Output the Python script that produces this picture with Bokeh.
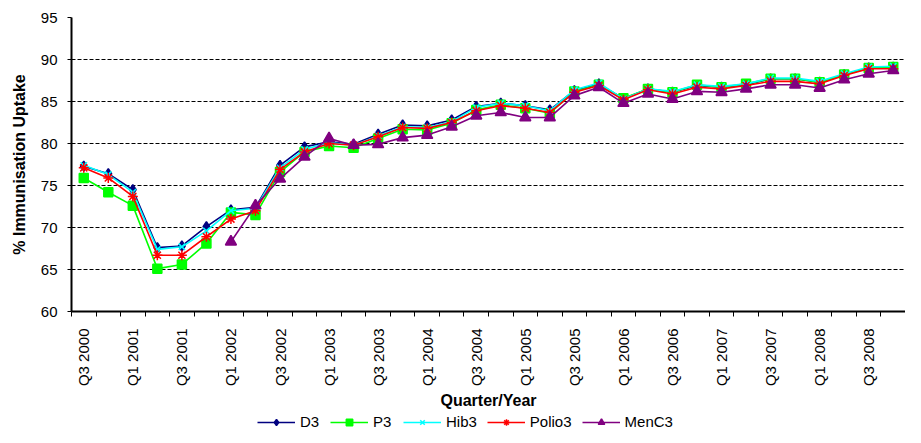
import math
import numpy as np
from bokeh.plotting import figure
from bokeh.layouts import column
from bokeh.models import (Range1d, FixedTicker, Legend, LegendItem, ColumnDataSource)
from bokeh.embed import file_html
from bokeh.resources import INLINE

quarters = ["Q3 2000", "Q4 2000", "Q1 2001", "Q2 2001", "Q3 2001", "Q4 2001",
            "Q1 2002", "Q2 2002", "Q3 2002", "Q4 2002", "Q1 2003", "Q2 2003",
            "Q3 2003", "Q4 2003", "Q1 2004", "Q2 2004", "Q3 2004", "Q4 2004",
            "Q1 2005", "Q2 2005", "Q3 2005", "Q4 2005", "Q1 2006", "Q2 2006",
            "Q3 2006", "Q4 2006", "Q1 2007", "Q2 2007", "Q3 2007", "Q4 2007",
            "Q1 2008", "Q2 2008", "Q3 2008", "Q4 2008"]

d3 = [77.3, 76.4, 74.5, 67.6, 67.8, 70.1, 72.1, 72.4, 77.4, 79.6, 80.2, 79.9,
      81.1, 82.2, 82.1, 82.8, 84.4, 84.8, 84.5, 84.0, 86.3, 87.1, 85.3, 86.5,
      86.1, 86.9, 86.7, 87.0, 87.7, 87.7, 87.3, 88.2, 89.0, 89.1]
p3 = [75.9, 74.2, 72.6, 65.1, 65.6, 68.1, 71.8, 71.5, 76.6, 79.0, 79.7, 79.5,
      80.6, 81.7, 81.6, 82.4, 84.0, 84.6, 84.2, 83.6, 86.2, 87.0, 85.4, 86.5,
      86.1, 87.0, 86.7, 87.1, 87.7, 87.7, 87.3, 88.2, 89.0, 89.1]
hib3 = [77.4, 76.3, 74.2, 67.4, 67.7, 69.6, 72.0, 72.3, 77.1, 79.3, 80.1, 79.8,
        80.9, 82.0, 81.9, 82.6, 84.3, 84.8, 84.5, 83.9, 86.4, 87.2, 85.3, 86.5,
        86.2, 87.0, 86.8, 87.1, 87.8, 87.8, 87.4, 88.3, 89.1, 89.2]
polio3 = [77.1, 75.9, 73.7, 66.7, 66.7, 68.9, 71.0, 72.0, 76.9, 79.0, 80.0, 79.8,
          80.8, 81.9, 81.8, 82.5, 83.9, 84.5, 84.2, 83.7, 86.1, 86.9, 85.2, 86.4,
          85.9, 86.7, 86.5, 86.9, 87.4, 87.4, 87.1, 88.1, 88.9, 88.9]
menc3 = [None, None, None, None, None, None, 68.3, 72.6, 75.8, 78.4, 80.6, 79.8,
         79.9, 80.7, 81.0, 82.0, 83.3, 83.7, 83.1, 83.1, 85.7, 86.7, 84.8, 85.9,
         85.3, 86.2, 86.1, 86.5, 87.0, 87.0, 86.6, 87.6, 88.3, 88.7]

y_ticks = [60, 65, 70, 75, 80, 85, 90, 95]

FONT = "Liberation Sans"

p = figure(frame_width=834, frame_height=294, output_backend="svg",
           toolbar_location=None,
           x_range=Range1d(-0.5, len(quarters) - 0.5), y_range=Range1d(60, 95),
           min_border_left=71, min_border_top=17, min_border_right=0,
           min_border_bottom=0)
p.outline_line_color = None
p.background_fill_color = "white"
p.border_fill_color = "white"

# strip for the legend, placed under the chart (its view range holds no data,
# so only the legend is visible there)
leg = figure(width=905, height=19, output_backend="svg", toolbar_location=None,
             x_range=Range1d(1000, 1001), y_range=Range1d(1000, 1001),
             x_axis_location=None, y_axis_location=None,
             min_border_left=0, min_border_right=0, min_border_top=0,
             min_border_bottom=0)
leg.outline_line_color = None
leg.grid.visible = False

x = list(range(len(quarters)))

series = [
    ("D3", d3, "#000080", "diamond", 10),
    ("P3", p3, "#00FF00", "square", 9),
    ("Hib3", hib3, "#00FFFF", "x", 9),
    ("Polio3", polio3, "#FF0000", "asterisk", 10),
    ("MenC3", menc3, "#800080", "triangle", 11),
]

items = []
for name, vals, col, marker, sz in series:
    yv = [np.nan if v is None else v for v in vals]
    src = ColumnDataSource(dict(x=x, y=yv))
    p.line("x", "y", source=src, line_color=col, line_width=1.6)
    p.scatter("x", "y", source=src, marker=marker, size=sz,
              fill_color=col, line_color=col, line_width=1.5)
    lr = leg.line("x", "y", source=src, line_color=col, line_width=1.6)
    sr = leg.scatter("x", "y", source=src, marker=marker, size=sz,
                     fill_color=col, line_color=col, line_width=1.5)
    items.append(LegendItem(label=name, renderers=[lr, sr]))

# x axis
xa = p.xaxis[0]
xa.ticker = FixedTicker(ticks=list(range(0, len(quarters), 2)),
                        minor_ticks=[i - 0.5 for i in range(len(quarters) + 1)])
xa.major_label_overrides = {i: quarters[i] for i in range(0, len(quarters), 2)}
xa.major_label_orientation = math.pi / 2
xa.major_tick_out = 0
xa.major_tick_in = 0
xa.major_tick_line_color = None
xa.minor_tick_out = 5
xa.minor_tick_in = 0
xa.minor_tick_line_color = "black"
xa.minor_tick_line_width = 1
xa.major_label_standoff = 12
xa.axis_label = "Quarter/Year"
xa.axis_label_standoff = 3

# y axis
ya = p.yaxis[0]
ya.ticker = FixedTicker(ticks=y_ticks)
ya.minor_tick_line_color = None
ya.major_tick_out = 4
ya.major_tick_in = 0
ya.major_label_standoff = 10
ya.axis_label = "% Immunisation Uptake"
ya.axis_label_standoff = 10

for ax in (xa, ya):
    ax.axis_line_color = "black"
    ax.axis_line_width = 2
    ax.major_label_text_font = FONT
    ax.major_label_text_font_size = "15px"
    ax.major_label_text_color = "black"
    ax.axis_label_text_font = FONT
    ax.axis_label_text_font_size = "16px"
    ax.axis_label_text_font_style = "bold"
    ax.axis_label_text_color = "black"

p.xgrid.grid_line_color = None
p.ygrid.ticker = FixedTicker(ticks=y_ticks[1:])
p.ygrid.grid_line_color = "black"
p.ygrid.grid_line_dash = "4 2"
p.ygrid.grid_line_width = 1

legend = Legend(items=items, orientation="horizontal", location=(186, 1),
                glyph_width=38, glyph_height=16, label_standoff=5, spacing=10,
                padding=0, margin=0, border_line_color=None,
                background_fill_alpha=0, label_text_font=FONT,
                label_text_font_size="15px", label_text_color="black",
                label_height=16)
leg.add_layout(legend, "center")

layout = column(p, leg, spacing=0)
open("out.html", "w").write(file_html(layout, INLINE))
